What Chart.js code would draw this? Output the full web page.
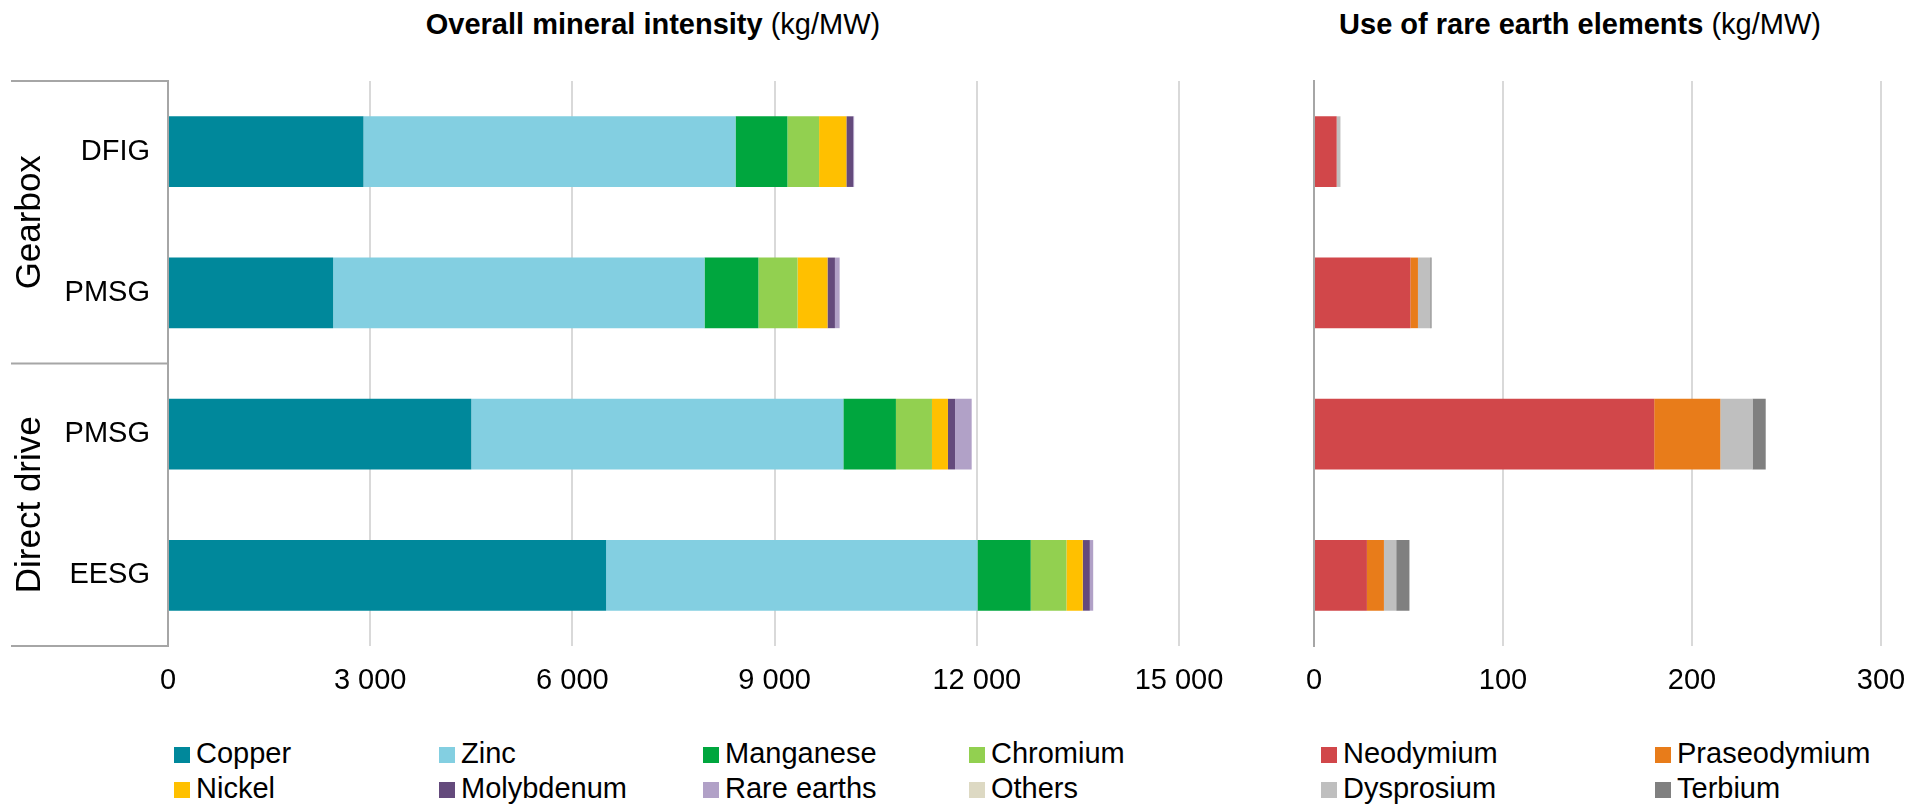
<!DOCTYPE html>
<html>
<head>
<meta charset="utf-8">
<script src="https://cdn.jsdelivr.net/npm/chart.js@4.4.1/dist/chart.umd.min.js"></script>
<style>
    body { margin: 0; width: 1924px; height: 804px; background: #fff; position: relative; overflow: hidden; font-family: "Liberation Sans", Arial, sans-serif; color: #000; }
    .title { position: absolute; top: 10px; font-size: 29px; line-height: 29px; white-space: nowrap; transform: translateX(-50%); }
    .title b { font-weight: bold; }
    #leftWrap { position: absolute; left: 0; top: 0; width: 1260px; height: 720px; }
    #rightWrap { position: absolute; left: 1200px; top: 0; width: 760px; height: 720px; }
    .legend-item { position: absolute; font-size: 29px; line-height: 29px; height: 29px; white-space: nowrap; }
    .legend-item span { display: inline-block; width: 16px; height: 16px; margin-right: 6px; }
</style>
</head>
<body>
<div class="title" style="left:653px"><b>Overall mineral intensity</b> (kg/MW)</div>
<div class="title" style="left:1580px"><b>Use of rare earth elements</b> (kg/MW)</div>
<div id="leftWrap"><canvas id="mineralChart"></canvas></div>
<div id="rightWrap"><canvas id="rareEarthChart"></canvas></div>
<div id="legend"></div>
<script>
// categories (top to bottom)
const turbineTypes = ['DFIG', 'PMSG', 'PMSG', 'EESG'];
const groupNames = ['Gearbox', 'Direct drive'];

// overall mineral intensity, kg/MW
const copper = [2900, 2450, 4500, 6500];
const zinc = [5520, 5510, 5520, 5510];
const manganese = [770, 800, 780, 790];
const chromium = [470, 580, 535, 530];
const nickel = [405, 445, 237, 242];
const molybdenum = [100, 110, 105, 105];
const rareEarths = [15, 70, 247, 50];
const others = [0, 0, 0, 0];

// rare earth elements, kg/MW
const neodymium = [12, 51, 180, 28];
const praseodymium = [0, 4, 35, 9];
const dysprosium = [2, 6.5, 17, 6.5];
const terbium = [0, 0.7, 7, 7];

// axis ticks
const mineralTicks = [0, 3000, 6000, 9000, 12000, 15000];
const rareEarthTicks = [0, 100, 200, 300];

const mineralSeries = [
    { label: 'Copper', data: copper, color: '#00889b' },
    { label: 'Zinc', data: zinc, color: '#83cfe1' },
    { label: 'Manganese', data: manganese, color: '#00a63e' },
    { label: 'Chromium', data: chromium, color: '#92d050' },
    { label: 'Nickel', data: nickel, color: '#ffc000' },
    { label: 'Molybdenum', data: molybdenum, color: '#644a7c' },
    { label: 'Rare earths', data: rareEarths, color: '#b1a1c7' },
    { label: 'Others', data: others, color: '#ddd9c3' }
];
const rareEarthSeries = [
    { label: 'Neodymium', data: neodymium, color: '#d1474a' },
    { label: 'Praseodymium', data: praseodymium, color: '#e87c1a' },
    { label: 'Dysprosium', data: dysprosium, color: '#bfbfbf' },
    { label: 'Terbium', data: terbium, color: '#808080' }
];

Chart.defaults.font.family = '"Liberation Sans", Arial, sans-serif';
Chart.defaults.font.size = 29;
Chart.defaults.color = '#000';

// "3 000" style numbers
function formatThousands(v) {
    return String(v).replace(/\B(?=(\d{3})+(?!\d))/g, ' ');
}

function toDatasets(series) {
    return series.map(s => ({
        label: s.label,
        data: s.data,
        backgroundColor: s.color,
        borderWidth: 0,
        barPercentage: 0.5,
        categoryPercentage: 1
    }));
}

// Gearbox / Direct drive brackets on the left side
const groupBrackets = {
    id: 'groupBrackets',
    afterDraw(chart) {
        const { ctx, chartArea, scales } = chart;
        const y = scales.y;
        const mid = (y.getPixelForValue(1) + y.getPixelForValue(2)) / 2;
        const lines = [chartArea.top, mid, chartArea.bottom];
        ctx.save();
        ctx.strokeStyle = '#a6a6a6';
        ctx.lineWidth = 2;
        lines.forEach(ly => {
            ctx.beginPath();
            ctx.moveTo(11, ly);
            ctx.lineTo(chartArea.left, ly);
            ctx.stroke();
        });
        ctx.fillStyle = '#000';
        ctx.font = '35px "Liberation Sans", Arial, sans-serif';
        ctx.textAlign = 'center';
        ctx.textBaseline = 'middle';
        [[lines[0], lines[1]], [lines[1], lines[2]]].forEach((span, i) => {
            ctx.save();
            ctx.translate(30, (span[0] + span[1]) / 2);
            ctx.rotate(-Math.PI / 2);
            ctx.fillText(groupNames[i], 0, 0);
            ctx.restore();
        });
        ctx.restore();
    }
};

function buildChart(canvasId, series, ticks, max, yWidth, rightPad, showLabels, plugins) {
    return new Chart(document.getElementById(canvasId), {
        type: 'bar',
        data: { labels: turbineTypes, datasets: toDatasets(series) },
        options: {
            indexAxis: 'y',
            responsive: true,
            maintainAspectRatio: false,
            animation: false,
            layout: { padding: { left: 0, right: rightPad, top: 81, bottom: 0 } },
            plugins: { legend: { display: false }, tooltip: { enabled: false } },
            scales: {
                x: {
                    stacked: true,
                    min: 0,
                    max: max,
                    afterBuildTicks: scale => { scale.ticks = ticks.map(v => ({ value: v })); },
                    afterFit: scale => { scale.height = 74; },
                    ticks: { padding: 18, callback: v => formatThousands(v), maxRotation: 0 },
                    grid: { color: '#d9d9d9', lineWidth: 2, drawTicks: false },
                    border: { display: false }
                },
                y: {
                    stacked: true,
                    afterFit: scale => { scale.width = yWidth; },
                    ticks: { display: showLabels, padding: 18 },
                    grid: { display: false, drawTicks: false },
                    border: { color: '#a6a6a6', width: 2 }
                }
            }
        },
        plugins: plugins
    });
}

// legend built from the same series lists
function buildLegend(series, columns, rowBaselines) {
    const legend = document.getElementById('legend');
    series.forEach((s, i) => {
        const item = document.createElement('div');
        item.className = 'legend-item';
        item.style.left = columns[i % columns.length] + 'px';
        item.style.top = (rowBaselines[Math.floor(i / columns.length)] - 24.5) + 'px';
        item.innerHTML = `<span style="background:${s.color}"></span>${s.label}`;
        legend.appendChild(item);
    });
}

buildChart('mineralChart', mineralSeries, mineralTicks, 15000, 168, 81, true, [groupBrackets]);
buildChart('rareEarthChart', rareEarthSeries, rareEarthTicks, 300, 114, 79, false, []);

buildLegend(mineralSeries, [174, 439, 703, 969], [763, 798]);
buildLegend(rareEarthSeries, [1321, 1655], [763, 798]);
</script>
</body>
</html>
